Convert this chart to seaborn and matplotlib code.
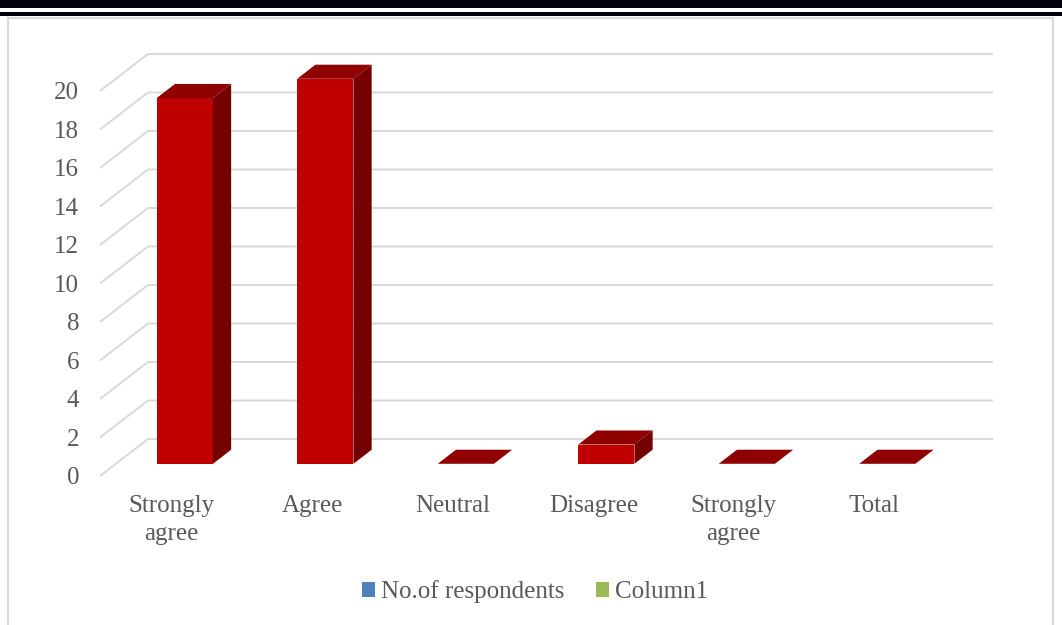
import numpy as np
import matplotlib
matplotlib.use("Agg")
import matplotlib.pyplot as plt
from matplotlib.patches import Polygon, Rectangle, Patch
import seaborn as sns

# Survey responses
categories = ["Strongly\nagree", "Agree", "Neutral", "Disagree", "Strongly\nagree", "Total"]
respondents = [19, 20, 0, 1, 0, 0]
y_ticks = list(range(0, 21, 2))
legend_labels = ["No.of respondents", "Column1"]
legend_colors = ["#4F81BD", "#9BBB59"]

FRONT = "#C00000"
TOP = "#8F0000"
SIDE = "#750000"
GRID = "#D9D9D9"
TEXT = "#595959"

sns.set_style("white")
plt.rcParams["font.family"] = ["Liberation Serif", "DejaVu Serif"]

W, H = 1062, 625
fig = plt.figure(figsize=(W / 100, H / 100), dpi=100)
ax = fig.add_axes([100 / W, 1 - 476 / H, (993 - 100) / W, (476 - 54) / H])

# Front face of each column via seaborn
sns.barplot(x=np.arange(len(categories)), y=respondents, width=0.4, color=FRONT,
            saturation=1, linewidth=0, ax=ax, zorder=3)

xl, xr = -0.491, 5.865
ax.set_xlim(xl, xr)
ax.set_ylim(0, 21.92)

# Depth of the 3-D floor (front edge -> back wall) in data units
Dx, Dy = 0.3416, 1.922
# Columns stand between these fractions of the floor depth
f0, f1 = 0.33, 0.71
bx, by = (f1 - f0) * Dx, (f1 - f0) * Dy

# Back wall gridlines and their receding floor/side-wall lines
for v in y_ticks:
    ax.plot([xl, xl + Dx, xr], [v, v + Dy, v + Dy], color=GRID, lw=1.4,
            zorder=1, clip_on=False, solid_capstyle="butt")

# Shift the fronts into the floor and add the top and side faces
for p, v in zip(ax.patches, respondents):
    p.set_x(p.get_x() + f0 * Dx)
    p.set_y(p.get_y() + f0 * Dy)
    x0 = p.get_x()
    x1 = x0 + p.get_width()
    yb = p.get_y()
    yt = yb + v
    top = Polygon([(x0, yt), (x1, yt), (x1 + bx, yt + by), (x0 + bx, yt + by)],
                  closed=True, facecolor=TOP, edgecolor="none", zorder=3)
    side = Polygon([(x1, yb), (x1 + bx, yb + by), (x1 + bx, yt + by), (x1, yt)],
                   closed=True, facecolor=SIDE, edgecolor="none", zorder=3)
    ax.add_patch(top)
    ax.add_patch(side)

ax.set_yticks(y_ticks)
ax.set_yticklabels([str(v) for v in y_ticks])
ax.set_xticks(np.arange(len(categories)) + 0.02)
ax.set_xticklabels(categories, linespacing=1.35)
ax.tick_params(axis="both", length=0, labelsize=18, colors=TEXT)
ax.tick_params(axis="y", pad=15)
ax.tick_params(axis="x", pad=14)
ax.set_xlabel("")
ax.set_ylabel("")
ax.grid(False)
for s in ax.spines.values():
    s.set_visible(False)
ax.patch.set_alpha(0)

# Chart area border
fig.add_artist(Rectangle((8 / W, -0.1), (1053 - 8) / W, 1 - 18 / H + 0.1,
                         transform=fig.transFigure, facecolor="none",
                         edgecolor="#D9D9D9", lw=1.5))
# Page rules above the chart
fig.add_artist(Rectangle((0, 1 - 8 / H), 1, 8 / H, transform=fig.transFigure,
                         facecolor="#03000C", edgecolor="none"))
fig.add_artist(Rectangle((0, 1 - 16 / H), 1, 4 / H, transform=fig.transFigure,
                         facecolor="#03000C", edgecolor="none"))

handles = [Patch(facecolor=c, edgecolor="none", label=l)
           for c, l in zip(legend_colors, legend_labels)]
fig.legend(handles=handles, loc="center", bbox_to_anchor=(535 / W, 1 - 592 / H),
           ncol=2, frameon=False, fontsize=18, handlelength=0.52, handleheight=0.52,
           handletextpad=0.24, columnspacing=1.24, labelcolor=TEXT)

fig.savefig("out.png", dpi=100)
